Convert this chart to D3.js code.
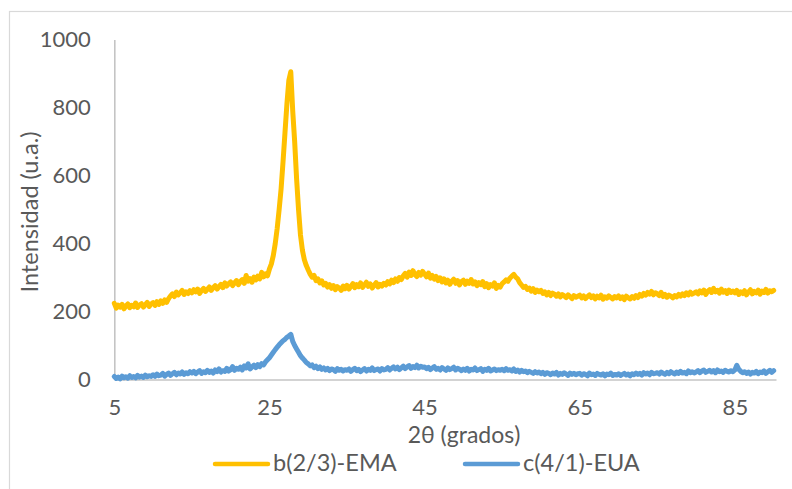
<!DOCTYPE html>
<html>
<head>
<meta charset="utf-8">
<script src="https://cdn.jsdelivr.net/npm/d3@7"></script>
<style>
  html, body { margin: 0; padding: 0; background: #ffffff; }
  svg { display: block; }
  text { font-family: Lato, "Open Sans", sans-serif; fill: #595959; }
</style>
</head>
<body>
<svg id="chart" width="792" height="489"></svg>
<script>
// ---------------- data ----------------
const angleStart = 5;       // 2θ of first sample
const angleStep = 0.25;     // 2θ sampling step

const seriesNames = ["b(2/3)-EMA", "c(4/1)-EUA"];

// intensities, one row per 5° of 2θ
const emaValues = [
  224,210,219,213,221,208,216,222,211,218,214,225,212,219,223,213,220,227,215,222,
  226,218,229,221,231,224,234,227,238,246,252,244,257,249,255,262,250,258,253,261,
  255,264,258,266,253,262,268,259,265,272,262,270,276,266,273,280,270,284,275,282,
  287,276,284,291,279,288,294,283,306,289,297,286,301,293,304,296,315,302,311,305,
  325,340,365,400,445,500,560,640,725,810,880,905,790,700,590,500,425,380,352,335,
  322,310,301,306,291,296,284,290,278,283,272,279,268,276,264,273,269,262,275,267,
  277,266,274,282,270,279,273,284,271,278,286,274,281,269,277,285,272,280,275,283,
  278,288,281,292,285,296,289,300,294,305,312,301,316,306,320,309,303,315,307,318,
  310,302,313,298,306,295,303,291,299,287,296,284,292,280,289,295,283,291,278,288,
  292,280,289,283,294,281,287,276,285,279,288,273,282,270,279,275,284,268,277,272,
  282,287,293,289,298,304,309,301,296,285,278,271,274,265,269,260,267,256,263,258,
  262,253,258,249,256,247,254,251,245,252,243,250,246,241,249,244,238,247,242,245,
  248,240,246,238,244,249,241,246,237,245,240,248,236,243,239,246,241,237,244,240,
  246,238,243,235,245,240,237,244,239,247,241,250,245,253,248,256,251,259,249,255,
  252,247,256,244,250,242,248,245,240,247,243,250,245,252,247,255,249,257,251,254,
  258,252,261,255,263,250,259,264,256,268,258,262,254,266,257,261,253,263,256,260,
  255,262,250,258,253,261,249,257,264,252,259,255,263,251,260,256,265,254,261,258,
  262
];

const euaValues = [
  9,3,7,2,10,5,8,4,11,6,9,5,12,7,10,6,13,8,11,9,
  14,9,16,11,13,18,10,15,19,12,17,21,14,19,16,22,15,20,17,23,
  19,24,17,22,26,18,23,20,27,21,25,19,28,23,31,22,26,24,33,25,
  29,38,27,33,30,36,28,40,34,46,31,37,42,35,44,38,47,43,52,58,
  64,72,80,88,95,102,108,114,118,124,128,133,112,100,90,80,70,63,57,50,
  46,40,43,35,39,32,37,30,34,28,33,26,31,29,24,32,27,30,25,29,
  27,31,24,29,33,26,30,23,28,32,25,30,27,34,26,29,31,25,32,28,
  30,35,28,33,37,31,36,29,34,39,32,37,41,33,38,35,42,34,39,36,
  37,32,36,29,34,38,30,33,28,35,31,27,34,29,32,36,28,33,30,26,
  31,27,33,25,30,28,34,26,29,32,24,30,27,33,25,28,31,26,29,27,
  30,26,32,27,29,25,31,24,28,22,27,23,25,20,24,21,18,23,19,22,
  17,21,15,20,18,14,19,16,21,13,18,15,20,16,12,19,15,18,14,17,
  18,13,17,15,11,19,14,16,12,18,15,13,17,11,16,14,19,12,15,13,
  17,12,15,18,13,16,11,17,14,19,15,18,13,20,16,19,14,21,17,18,
  20,16,22,18,15,21,17,23,19,16,22,18,24,19,21,17,25,20,23,19,
  22,26,20,25,28,21,24,27,22,26,20,28,23,25,21,27,24,22,26,23,
  28,42,30,24,20,23,18,22,16,21,19,24,17,22,20,25,18,23,27,21,
  26
];

const xTicks = [5, 25, 45, 65, 85];
const yTicks = [0, 200, 400, 600, 800, 1000];
const xDomain = [5, 90.3];
const yDomain = [0, 1000];

const colors = ["#FFC000", "#5B9BD5"];

// ---------------- layout ----------------
const svg = d3.select("#chart");
const plot = { left: 114.3, right: 776, top: 39.5, bottom: 379.5 };
const tickFont = 22;
const titleFont = 23;

const x = d3.scaleLinear().domain(xDomain).range([plot.left, plot.right]);
const y = d3.scaleLinear().domain(yDomain).range([plot.bottom, plot.top]);

// outer chart border (extends beyond picture on right/bottom)
svg.append("rect")
  .attr("x", 9.5).attr("y", 11.5)
  .attr("width", 800).attr("height", 500)
  .attr("fill", "none").attr("stroke", "#d9d9d9").attr("stroke-width", 1.2);

// axes
const yAxis = d3.axisLeft(y).tickValues(yTicks).tickFormat(d3.format("d")).tickSize(0).tickPadding(23.5);
const xAxis = d3.axisBottom(x).tickValues(xTicks).tickFormat(d3.format("d")).tickSize(0).tickPadding(20);

const gy = svg.append("g").attr("transform", `translate(${plot.left},0)`).call(yAxis);
const gx = svg.append("g").attr("transform", `translate(0,${plot.bottom})`).call(xAxis);

[gx, gy].forEach(g => {
  g.select(".domain").attr("stroke", "#c4c4c4").attr("stroke-width", 1.6);
  g.selectAll("text").attr("font-size", tickFont).attr("font-family", "Lato, 'Open Sans', sans-serif").attr("fill", "#595959");
});

// series
const line = d3.line()
  .x((d, i) => x(angleStart + i * angleStep))
  .y(d => y(d))
  .curve(d3.curveLinear);

[emaValues, euaValues].forEach((vals, k) => {
  svg.append("path")
    .datum(vals)
    .attr("fill", "none")
    .attr("stroke", colors[k])
    .attr("stroke-width", 5)
    .attr("stroke-linejoin", "round")
    .attr("stroke-linecap", "round")
    .attr("d", line);
});

// axis titles
svg.append("text")
  .attr("x", 464).attr("y", 443)
  .attr("text-anchor", "middle")
  .attr("font-size", titleFont)
  .text("2θ (grados)");

svg.append("text")
  .attr("transform", "translate(38,212) rotate(-90)")
  .attr("text-anchor", "middle")
  .attr("font-size", 23.5)
  .text("Intensidad (u.a.)");

// legend
const legendItems = [
  { x0: 215, x1: 268, tx: 273 },
  { x0: 465, x1: 518, tx: 523 }
];
legendItems.forEach((it, k) => {
  svg.append("line")
    .attr("x1", it.x0).attr("x2", it.x1)
    .attr("y1", 464).attr("y2", 464)
    .attr("stroke", colors[k]).attr("stroke-width", 4.5)
    .attr("stroke-linecap", "round");
  svg.append("text")
    .attr("x", it.tx).attr("y", 471)
    .attr("font-size", 23.5)
    .text(seriesNames[k]);
});
</script>
</body>
</html>
